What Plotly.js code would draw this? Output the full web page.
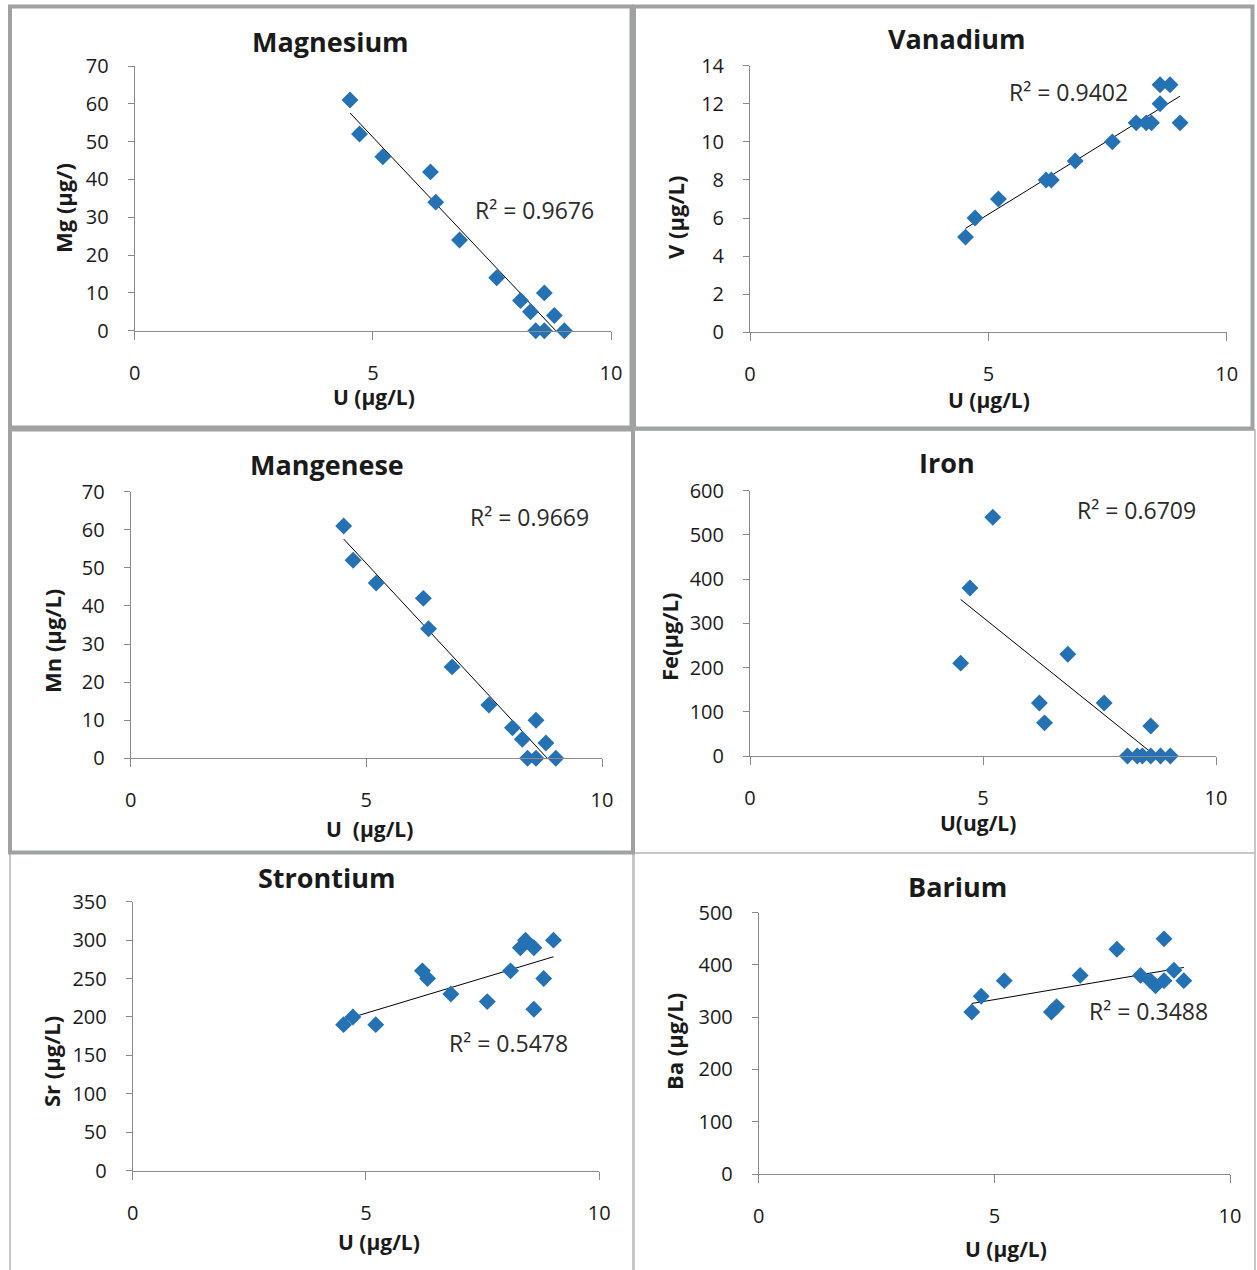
<!DOCTYPE html>
<html><head><meta charset="utf-8">
<script src="https://cdn.plot.ly/plotly-3.0.1.min.js"></script>
<style>html,body{margin:0;padding:0;background:#fff}#chart{width:1257px;height:1270px}</style>
</head><body><div id="chart"></div>
<script>
// ---- data ----
const U  = [4.52, 4.72, 5.21, 6.21, 6.32, 6.82, 7.60, 8.10, 8.31, 8.42, 8.60, 8.60, 8.81, 9.02];
const Mg = [61, 52, 46, 42, 34, 24, 14, 8, 5, 0, 10, 0, 4, 0];
const V  = [5, 6, 7, 8, 8, 9, 10, 11, 11, 11, 12, 13, 13, 11];
const Mn = [61, 52, 46, 42, 34, 24, 14, 8, 5, 0, 10, 0, 4, 0];
const Fe = [210, 380, 540, 120, 75, 230, 120, 0, 0, 0, 68, 0, 0, 0];
const Sr = [190, 200, 190, 260, 250, 230, 220, 260, 290, 300, 290, 210, 250, 300];
const Ba = [310, 340, 370, 310, 320, 380, 430, 380, 370, 360, 450, 370, 390, 370];

const titles  = ['Magnesium', 'Vanadium', 'Mangenese', 'Iron', 'Strontium', 'Barium'];
const xTitles = ['U (µg/L)', 'U (µg/L)', 'U\u00a0 (µg/L)', 'U(ug/L)', 'U (µg/L)', 'U (µg/L)'];
const yTitles = ['Mg (µg/)', 'V (µg/L)', 'Mn (µg/L)', 'Fe(µg/L)', 'Sr (µg/L)', 'Ba (µg/L)'];
const r2Text  = ['R² = 0.9676', 'R² = 0.9402', 'R² = 0.9669', 'R² = 0.6709', 'R² = 0.5478', 'R² = 0.3488'];
const yMax    = [70, 14, 70, 600, 350, 500];
const yStep   = [10, 2, 10, 100, 50, 100];
const xTicks  = [0, 5, 10];
const series  = [Mg, V, Mn, Fe, Sr, Ba];

// ---- geometry (page pixels) ----
const W = 1257, H = 1270;
const px = x => x / W, py = y => 1 - y / H;
const geo = [
  {l:134.7, r:611,   b:330.7, t:66,    title:[330,42],  xt:[374,397],  yt:[63,208],   r2:[534,210]},
  {l:750,   r:1226.8,b:332.3, t:65.7,  title:[957,38],  xt:[989,400],  yt:[675,218],  r2:[1068,92]},
  {l:130.6, r:602,   b:758.3, t:491.7, title:[327,464], xt:[369,829],  yt:[52,641],   r2:[529,517]},
  {l:750,   r:1216,  b:756,   t:490.7, title:[947,462], xt:[978,823],  yt:[669,637],  r2:[1136,510]},
  {l:132.7, r:599.2, b:1170.7,t:901.7, title:[327,878], xt:[379,1242], yt:[51,1062],  r2:[508,1043]},
  {l:758.8, r:1230,  b:1174,  t:912.7, title:[957,886], xt:[1006,1249],yt:[674,1042], r2:[1148,1011]}
];

const FONT = 'Open Sans, Lato, sans-serif';
const TXT = '#1a1a1a';
const MARK = '#2471b3';

function fit(x, y) {
  const n = x.length;
  const mx = x.reduce((a,b)=>a+b,0)/n, my = y.reduce((a,b)=>a+b,0)/n;
  let sxy = 0, sxx = 0;
  for (let i=0;i<n;i++){ sxy += (x[i]-mx)*(y[i]-my); sxx += (x[i]-mx)**2; }
  const m = sxy/sxx, c = my - m*mx;
  const xmin = Math.min(...x), xmax = Math.max(...x);
  return {x:[xmin, xmax], y:[m*xmin + c, m*xmax + c]};
}

const data = [], annotations = [], shapes = [];
const layout = {
  width: W, height: H, margin:{l:0,r:0,t:0,b:0},
  paper_bgcolor:'#ffffff', plot_bgcolor:'rgba(0,0,0,0)',
  showlegend:false, font:{family:FONT, color:TXT},
  annotations, shapes
};

series.forEach((ys, i) => {
  const k = i === 0 ? '' : String(i+1);
  const g = geo[i];
  const fl = fit(U, ys);
  data.push({x:fl.x, y:fl.y, xaxis:'x'+k, yaxis:'y'+k, mode:'lines', type:'scatter',
             line:{color:'#000000', width:1}, hoverinfo:'skip'});
  data.push({x:U, y:ys, xaxis:'x'+k, yaxis:'y'+k, mode:'markers', type:'scatter',
             marker:{symbol:'diamond', size:13, color:MARK}, cliponaxis:false});
  layout['xaxis'+k] = {
    domain:[px(g.l), px(g.r)], anchor:'y'+k, range:[0,10], tickvals:xTicks,
    showline:true, linecolor:'#8a8a8a', linewidth:1, ticks:'outside', ticklen:8, tickcolor:'#8a8a8a',
    showgrid:false, zeroline:false, tickfont:{family:FONT, size:20, color:TXT},
    ticklabelstandoff:16, fixedrange:true
  };
  const yv = []; for (let v=0; v<=yMax[i]; v+=yStep[i]) yv.push(v);
  layout['yaxis'+k] = {
    domain:[py(g.b), py(g.t)], anchor:'x'+k, range:[0,yMax[i]], tickvals:yv,
    showline:true, linecolor:'#8a8a8a', linewidth:1, ticks:'outside', ticklen:6, tickcolor:'#8a8a8a',
    showgrid:false, zeroline:false, tickfont:{family:FONT, size:20, color:TXT},
    ticklabelstandoff:15, fixedrange:true
  };
  annotations.push({xref:'paper', yref:'paper', x:px(g.title[0]), y:py(g.title[1]), text:'<b>'+titles[i]+'</b>',
    showarrow:false, xanchor:'center', yanchor:'middle', font:{family:FONT, size:27, color:TXT}});
  annotations.push({xref:'paper', yref:'paper', x:px(g.xt[0]), y:py(g.xt[1]), text:'<b>'+xTitles[i]+'</b>',
    showarrow:false, xanchor:'center', yanchor:'middle', font:{family:FONT, size:21, color:TXT}});
  annotations.push({xref:'paper', yref:'paper', x:px(g.yt[0]), y:py(g.yt[1]), text:'<b>'+yTitles[i]+'</b>',
    showarrow:false, xanchor:'center', yanchor:'middle', textangle:-90, font:{family:FONT, size:22, color:TXT}});
  annotations.push({xref:'paper', yref:'paper', x:px(g.r2[0]), y:py(g.r2[1]), text:r2Text[i],
    showarrow:false, xanchor:'center', yanchor:'middle', font:{family:FONT, size:23, color:'#2a2a2a'}});
});

// panel frames
function frame(x0, y0, x1, y1, w, c) {
  shapes.push({type:'rect', xref:'paper', yref:'paper', x0:px(x0), x1:px(x1), y0:py(y1), y1:py(y0),
               line:{color:c, width:w}, fillcolor:'rgba(0,0,0,0)', layer:'below'});
}
const LIGHT = '#c6c8c8', DARK = '#9ea3a2';
frame(634, 853, 1255, 1275, 2, LIGHT);
frame(10, 853, 633, 1275, 2, LIGHT);
frame(634, 430, 1255, 853, 2, LIGHT);
frame(10, 6.5, 631.5, 427.5, 4, DARK);
frame(634, 6.5, 1252.5, 428.5, 4, DARK);
frame(10, 429.5, 633, 852.5, 4, DARK);

Plotly.newPlot('chart', data, layout, {staticPlot:true});
</script>
</body></html>
